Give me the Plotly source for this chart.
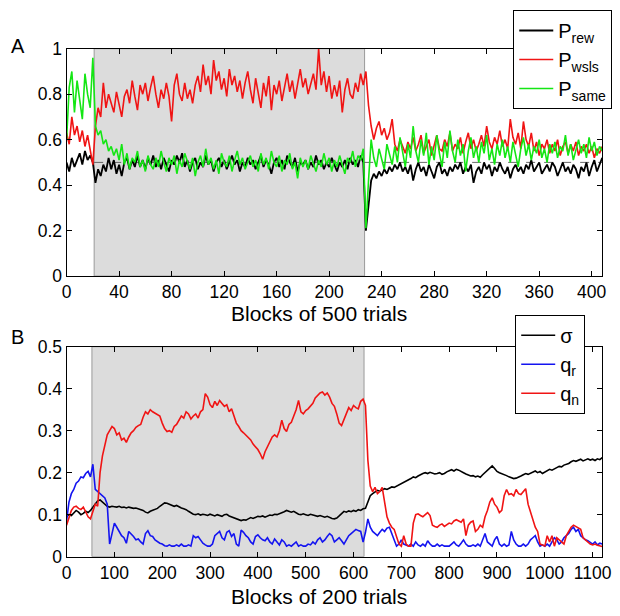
import plotly.graph_objects as go

# ---------------- Panel A: blocks of 500 trials ----------------
blocks_a = list(range(0, 409, 2))

p_rew = [
    0.50, 0.46, 0.52, 0.48, 0.51, 0.54, 0.49, 0.55, 0.51, 0.53, 0.50,
    0.41, 0.47, 0.44, 0.49, 0.46, 0.52, 0.47, 0.51, 0.45, 0.49,
    0.44, 0.50, 0.52, 0.47, 0.51, 0.48, 0.53, 0.48, 0.51, 0.47,
    0.52, 0.49, 0.53, 0.48, 0.51, 0.47, 0.52, 0.49, 0.46, 0.51,
    0.49, 0.53, 0.50, 0.54, 0.48, 0.51, 0.46, 0.50, 0.52, 0.47,
    0.50, 0.48, 0.53, 0.49, 0.51, 0.46, 0.50, 0.52, 0.48, 0.51,
    0.47, 0.50, 0.53, 0.49, 0.51, 0.46, 0.50, 0.48, 0.52, 0.49,
    0.51, 0.47, 0.50, 0.53, 0.48, 0.51, 0.49, 0.45, 0.50, 0.52,
    0.48, 0.51, 0.47, 0.53, 0.50, 0.48, 0.52, 0.46, 0.50, 0.49,
    0.51, 0.47, 0.50, 0.48, 0.53, 0.49, 0.51, 0.47, 0.50, 0.48,
    0.52, 0.49, 0.46, 0.50, 0.48, 0.51, 0.47, 0.52, 0.49, 0.51,
    0.48, 0.53, 0.50,
    0.20, 0.31, 0.42, 0.45, 0.43, 0.46, 0.44, 0.47, 0.45, 0.48,
    0.46, 0.49, 0.47, 0.50, 0.46, 0.48, 0.45, 0.49, 0.42, 0.47,
    0.50, 0.46, 0.48, 0.44, 0.49, 0.46, 0.43, 0.48, 0.50, 0.45,
    0.47, 0.44, 0.48, 0.46, 0.49, 0.47, 0.50, 0.45, 0.48, 0.46,
    0.49, 0.41, 0.46, 0.48, 0.45, 0.50, 0.47, 0.49, 0.44, 0.48,
    0.46, 0.50, 0.47, 0.45, 0.48, 0.43, 0.47, 0.49, 0.46, 0.48,
    0.45, 0.49, 0.47, 0.51, 0.46, 0.48, 0.50, 0.45, 0.47, 0.49,
    0.46, 0.50, 0.48, 0.44, 0.47, 0.50, 0.46, 0.48, 0.45, 0.49,
    0.47, 0.43, 0.48, 0.46, 0.50, 0.44, 0.48, 0.51, 0.46, 0.49,
    0.52,
]

p_wsls = [
    0.63, 0.58, 0.70, 0.62, 0.66, 0.59, 0.64, 0.57, 0.62, 0.55, 0.49,
    0.66, 0.74, 0.70, 0.85, 0.74, 0.80, 0.76, 0.72, 0.81, 0.75,
    0.70, 0.79, 0.82, 0.76, 0.86, 0.79, 0.73, 0.84, 0.80, 0.85,
    0.77, 0.83, 0.88, 0.80, 0.74, 0.82, 0.78, 0.85, 0.79, 0.68,
    0.84, 0.89, 0.80, 0.77, 0.85, 0.78, 0.82, 0.76, 0.84, 0.88,
    0.81, 0.93, 0.84, 0.88, 0.80, 0.95, 0.86, 0.90, 0.82, 0.87,
    0.79, 0.91, 0.84, 0.88, 0.81, 0.86, 0.78, 0.85, 0.90, 0.82,
    0.76, 0.87, 0.80, 0.74, 0.85, 0.79, 0.88, 0.73, 0.84, 0.80,
    0.86, 0.77, 0.83, 0.89, 0.81, 0.86, 0.78, 0.84, 0.91, 0.83,
    0.87, 0.80, 0.85, 0.89, 0.82, 1.00, 0.84, 0.90, 0.81, 0.88,
    0.78, 0.84, 0.79, 0.86, 0.72, 0.82, 0.87, 0.80, 0.78, 0.85,
    0.81, 0.89, 0.84,
    0.90, 0.75, 0.66, 0.60, 0.65, 0.68, 0.62, 0.65, 0.60, 0.63,
    0.69, 0.58, 0.55, 0.60, 0.57, 0.54, 0.59, 0.56, 0.61, 0.55,
    0.58, 0.62, 0.54, 0.57, 0.60, 0.53, 0.58, 0.62, 0.56, 0.55,
    0.60, 0.57, 0.63, 0.55, 0.58, 0.56, 0.61, 0.54, 0.59, 0.63,
    0.56, 0.60, 0.55, 0.58, 0.62, 0.57, 0.66, 0.59, 0.56, 0.61,
    0.58, 0.64, 0.57, 0.60, 0.56, 0.69, 0.61, 0.58, 0.63, 0.56,
    0.68, 0.60, 0.57, 0.63, 0.55, 0.59, 0.53, 0.58, 0.56, 0.60,
    0.54, 0.58, 0.55, 0.60, 0.53, 0.57, 0.59, 0.54, 0.58, 0.55,
    0.59, 0.53, 0.57, 0.55, 0.58, 0.54, 0.57, 0.52, 0.56, 0.54,
    0.57,
]

p_same = [
    0.60, 0.83, 0.90, 0.72, 0.86, 0.78, 0.69, 0.89, 0.80, 0.74, 0.96,
    0.66, 0.62, 0.64, 0.58, 0.60, 0.55, 0.57, 0.53, 0.56, 0.51,
    0.58, 0.49, 0.54, 0.47, 0.52, 0.50, 0.55, 0.48, 0.51, 0.46,
    0.53, 0.49, 0.47, 0.52, 0.48, 0.55, 0.50, 0.46, 0.52, 0.49,
    0.53, 0.45, 0.51, 0.48, 0.54, 0.50, 0.47, 0.52, 0.44, 0.50,
    0.53, 0.48, 0.56, 0.49, 0.52, 0.47, 0.51, 0.45, 0.54, 0.50,
    0.48, 0.53, 0.46, 0.51, 0.55, 0.49, 0.52, 0.47, 0.50, 0.53,
    0.48, 0.51, 0.46, 0.54, 0.49, 0.52, 0.47, 0.55, 0.50, 0.48,
    0.53, 0.46, 0.51, 0.49, 0.54, 0.47, 0.50, 0.43, 0.52, 0.48,
    0.51, 0.47, 0.53, 0.49, 0.46, 0.51, 0.48, 0.54, 0.49, 0.52,
    0.46, 0.51, 0.48, 0.53, 0.49, 0.45, 0.52, 0.50, 0.55, 0.48,
    0.53, 0.51, 0.56,
    0.21, 0.42, 0.60, 0.52, 0.48, 0.56, 0.51, 0.47, 0.58, 0.53,
    0.49, 0.57, 0.50, 0.61, 0.54, 0.48, 0.58, 0.52, 0.66, 0.55,
    0.50, 0.60, 0.53, 0.63, 0.49, 0.57, 0.51, 0.62, 0.54, 0.48,
    0.59, 0.52, 0.64, 0.55, 0.50, 0.60, 0.53, 0.58, 0.46, 0.55,
    0.61, 0.52, 0.57, 0.50, 0.59, 0.54, 0.62, 0.51, 0.56, 0.49,
    0.58, 0.53, 0.60, 0.52, 0.57, 0.50, 0.59, 0.54, 0.48, 0.56,
    0.61, 0.53, 0.58, 0.51, 0.57, 0.54, 0.60, 0.52, 0.56, 0.50,
    0.58, 0.54, 0.59, 0.52, 0.57, 0.55, 0.62, 0.53, 0.58, 0.51,
    0.56, 0.60, 0.54, 0.58, 0.52, 0.61, 0.55, 0.59, 0.53, 0.57,
    0.55,
]

# ---------------- Panel B: blocks of 200 trials ----------------
blocks_b = list(range(0, 1121, 5))

sigma = [
    0.095, 0.100, 0.098, 0.104, 0.110, 0.106, 0.100, 0.103, 0.108, 0.105,
    0.110, 0.118, 0.125, 0.133, 0.135, 0.130, 0.126, 0.120, 0.118, 0.120,
    0.119, 0.118, 0.120, 0.117, 0.118, 0.116, 0.118, 0.117, 0.115, 0.116,
    0.114, 0.113, 0.110, 0.106, 0.104, 0.108, 0.110, 0.112, 0.115, 0.120,
    0.124, 0.128, 0.127, 0.124, 0.122, 0.120, 0.122, 0.118, 0.116, 0.114,
    0.112, 0.108, 0.104, 0.101, 0.100, 0.102, 0.099, 0.101, 0.100, 0.098,
    0.101, 0.099, 0.097, 0.100, 0.098, 0.096, 0.100, 0.101, 0.097, 0.095,
    0.093, 0.090, 0.088, 0.086, 0.088, 0.087, 0.090, 0.093, 0.091, 0.094,
    0.096, 0.095, 0.097, 0.094, 0.096, 0.099, 0.098, 0.101, 0.100, 0.102,
    0.104, 0.107, 0.110, 0.108, 0.106, 0.108, 0.104, 0.101, 0.100, 0.102,
    0.100, 0.098, 0.101, 0.099, 0.097, 0.096, 0.098, 0.095, 0.094, 0.096,
    0.093, 0.091, 0.090, 0.092, 0.097, 0.103, 0.108, 0.106, 0.109, 0.107,
    0.110, 0.108, 0.112, 0.110, 0.114, 0.115, 0.130, 0.145, 0.150, 0.153,
    0.158, 0.156, 0.160, 0.162, 0.160, 0.164, 0.166, 0.165, 0.168, 0.170,
    0.172, 0.176, 0.180, 0.182, 0.186, 0.190, 0.188, 0.192, 0.196, 0.198,
    0.200, 0.198, 0.201, 0.199, 0.197, 0.198, 0.200, 0.196, 0.198, 0.202,
    0.205, 0.207, 0.204, 0.208, 0.206, 0.202, 0.200, 0.197, 0.194, 0.192,
    0.193, 0.190, 0.192, 0.189, 0.195, 0.200, 0.206, 0.212, 0.216, 0.210,
    0.203, 0.200, 0.198, 0.196, 0.193, 0.190, 0.188, 0.186, 0.187, 0.189,
    0.192, 0.195, 0.198, 0.196, 0.199, 0.202, 0.204, 0.200, 0.203, 0.198,
    0.201, 0.205, 0.208, 0.206, 0.210, 0.212, 0.215, 0.214, 0.218, 0.220,
    0.222, 0.226, 0.229, 0.227, 0.230, 0.232, 0.228, 0.231, 0.233, 0.230,
    0.232, 0.229, 0.233, 0.231, 0.236,
]

q_r = [
    0.085, 0.130, 0.150, 0.160, 0.175, 0.180, 0.190, 0.188, 0.198, 0.203,
    0.190, 0.220, 0.160, 0.155, 0.150, 0.145, 0.140, 0.125, 0.030, 0.055,
    0.080, 0.070, 0.060, 0.050, 0.045, 0.032, 0.060, 0.055, 0.048, 0.040,
    0.042, 0.035, 0.030, 0.055, 0.062, 0.050, 0.048, 0.040, 0.035, 0.032,
    0.030, 0.026, 0.025, 0.028, 0.025, 0.025, 0.028, 0.025, 0.030, 0.025,
    0.025, 0.028, 0.025, 0.050, 0.045, 0.048, 0.040, 0.032, 0.028, 0.025,
    0.025, 0.030, 0.050, 0.055, 0.060, 0.045, 0.040, 0.058, 0.062, 0.048,
    0.055, 0.030, 0.025, 0.063, 0.058, 0.050, 0.045, 0.035, 0.030, 0.048,
    0.052, 0.045, 0.040, 0.038, 0.045, 0.035, 0.030, 0.042, 0.035, 0.028,
    0.040, 0.035, 0.025, 0.028, 0.025, 0.030, 0.035, 0.025, 0.028, 0.025,
    0.025, 0.030, 0.028, 0.035, 0.030, 0.040, 0.045, 0.035, 0.040, 0.048,
    0.055, 0.050, 0.035, 0.040, 0.045, 0.038, 0.030, 0.040, 0.050, 0.055,
    0.060, 0.065, 0.062, 0.060, 0.035, 0.058, 0.090, 0.070, 0.060, 0.055,
    0.050, 0.058, 0.065, 0.060, 0.068, 0.070, 0.055, 0.045, 0.025, 0.030,
    0.040, 0.030, 0.028, 0.025, 0.030, 0.025, 0.035, 0.028, 0.025, 0.030,
    0.025, 0.038, 0.030, 0.025, 0.025, 0.030, 0.025, 0.028, 0.025, 0.025,
    0.025, 0.030, 0.035, 0.028, 0.025, 0.032, 0.040, 0.030, 0.025, 0.025,
    0.028, 0.025, 0.030, 0.025, 0.040, 0.055, 0.035, 0.030, 0.025, 0.040,
    0.048, 0.030, 0.025, 0.030, 0.025, 0.028, 0.060, 0.040, 0.030, 0.025,
    0.025, 0.030, 0.025, 0.030, 0.040, 0.045, 0.050, 0.035, 0.025, 0.028,
    0.025, 0.030, 0.025, 0.035, 0.045, 0.040, 0.030, 0.035, 0.045, 0.050,
    0.055, 0.065, 0.070, 0.060, 0.065, 0.050, 0.045, 0.040, 0.038, 0.035,
    0.030, 0.035, 0.028, 0.032, 0.030,
]

q_n = [
    0.075, 0.095, 0.110, 0.118, 0.120, 0.115, 0.112, 0.118, 0.108, 0.095,
    0.090, 0.110, 0.125, 0.120, 0.200, 0.240, 0.265, 0.290, 0.300, 0.310,
    0.305, 0.290, 0.295, 0.278, 0.282, 0.272, 0.285, 0.295, 0.300, 0.308,
    0.312, 0.315, 0.332, 0.345, 0.340, 0.350, 0.345, 0.342, 0.338, 0.335,
    0.318, 0.305, 0.298, 0.300, 0.296, 0.310, 0.315, 0.325, 0.335, 0.330,
    0.345, 0.340, 0.328, 0.335, 0.340, 0.330, 0.345, 0.350, 0.388, 0.380,
    0.362, 0.355, 0.370, 0.360, 0.372, 0.365, 0.358, 0.362, 0.345, 0.352,
    0.335, 0.318, 0.310, 0.300, 0.295, 0.290, 0.285, 0.278, 0.268, 0.262,
    0.255, 0.245, 0.232, 0.250, 0.262, 0.275, 0.285, 0.290, 0.285, 0.300,
    0.325, 0.305, 0.298, 0.315, 0.320, 0.335, 0.350, 0.372, 0.345, 0.340,
    0.348, 0.352, 0.358, 0.365, 0.378, 0.385, 0.390, 0.392, 0.385, 0.390,
    0.380, 0.365, 0.358, 0.340, 0.318, 0.312, 0.328, 0.340, 0.355, 0.348,
    0.360, 0.355, 0.352, 0.370, 0.375, 0.360, 0.230, 0.168, 0.155, 0.165,
    0.150, 0.155, 0.165, 0.130, 0.095, 0.080, 0.070, 0.065, 0.045, 0.030,
    0.025, 0.050, 0.030, 0.025, 0.025, 0.080, 0.100, 0.102, 0.098, 0.095,
    0.100, 0.105, 0.098, 0.075, 0.072, 0.070, 0.075, 0.078, 0.072, 0.075,
    0.080, 0.078, 0.085, 0.088, 0.085, 0.082, 0.090, 0.050, 0.075, 0.082,
    0.085, 0.060, 0.065, 0.075, 0.070, 0.095, 0.110, 0.130, 0.140, 0.125,
    0.118, 0.105, 0.110, 0.145, 0.160, 0.148, 0.150, 0.145, 0.160, 0.150,
    0.148, 0.155, 0.162, 0.125, 0.105, 0.085, 0.070, 0.060, 0.030, 0.028,
    0.025, 0.050, 0.035, 0.050, 0.025, 0.045, 0.040, 0.035, 0.030, 0.050,
    0.060, 0.070, 0.075, 0.072, 0.068, 0.065, 0.045, 0.040, 0.035, 0.030,
    0.028, 0.030, 0.027, 0.025, 0.024,
]

# Highlighted (shaded) block ranges and reference level
shade_a = (21, 227)
shade_b = (53, 622)
chance_level = 0.5

xticks_a = [0, 40, 80, 120, 160, 200, 240, 280, 320, 360, 400]
yticks_a = [0, 0.2, 0.4, 0.6, 0.8, 1]
ytext_a = ["0", "0.2", "0.4", "0.6", "0.8", "1"]
xticks_b = [0, 100, 200, 300, 400, 500, 600, 700, 800, 900, 1000, 1100]
yticks_b = [0, 0.1, 0.2, 0.3, 0.4, 0.5]
ytext_b = ["0", "0.1", "0.2", "0.3", "0.4", "0.5"]

assert len(p_rew) == len(p_wsls) == len(p_same) == len(blocks_a)
assert len(sigma) == len(q_r) == len(q_n) == len(blocks_b)

FONT = "Liberation Sans, Arial, Helvetica, sans-serif"
RED = "#f01414"
GREEN = "#14e614"
BLUE = "#1414f0"

fig = go.Figure()

fig.add_trace(go.Scatter(x=blocks_a, y=p_rew, mode="lines", name="P<sub>rew</sub>",
                         line=dict(color="black", width=1.8), xaxis="x", yaxis="y",
                         legend="legend"))
fig.add_trace(go.Scatter(x=blocks_a, y=p_wsls, mode="lines", name="P<sub>wsls</sub>",
                         line=dict(color=RED, width=1.6), xaxis="x", yaxis="y",
                         legend="legend"))
fig.add_trace(go.Scatter(x=blocks_a, y=p_same, mode="lines", name="P<sub>same</sub>",
                         line=dict(color=GREEN, width=1.6), xaxis="x", yaxis="y",
                         legend="legend"))

fig.add_trace(go.Scatter(x=blocks_b, y=sigma, mode="lines", name="σ",
                         line=dict(color="black", width=1.6), xaxis="x2", yaxis="y2",
                         legend="legend2"))
fig.add_trace(go.Scatter(x=blocks_b, y=q_r, mode="lines", name="q<sub>r</sub>",
                         line=dict(color=BLUE, width=1.6), xaxis="x2", yaxis="y2",
                         legend="legend2"))
fig.add_trace(go.Scatter(x=blocks_b, y=q_n, mode="lines", name="q<sub>n</sub>",
                         line=dict(color=RED, width=1.6), xaxis="x2", yaxis="y2",
                         legend="legend2"))

W, H = 620, 616
xdom = [63 / W, 611 / W]
ydom_a = [(H - 275) / H, (H - 40) / H]
ydom_b = [(H - 565) / H, (H - 348) / H]

axis_style = dict(showline=True, linecolor="black", linewidth=1, mirror="ticks",
                  ticks="inside", ticklen=5, tickcolor="black", tickwidth=1,
                  showgrid=False, zeroline=False,
                  tickfont=dict(family=FONT, size=17.5, color="black"))

shapes = [
    dict(type="rect", xref="x", yref="y", x0=shade_a[0], x1=shade_a[1], y0=0, y1=1,
         fillcolor="#dcdcdc", line=dict(color="#9a9a9a", width=1), layer="below"),
    dict(type="line", xref="x", yref="y", x0=shade_a[0], x1=blocks_a[-1],
         y0=chance_level, y1=chance_level,
         line=dict(color="#444444", width=0.8, dash="dash"), layer="below"),
    dict(type="rect", xref="x2", yref="y2", x0=shade_b[0], x1=shade_b[1], y0=0, y1=0.5,
         fillcolor="#dcdcdc", line=dict(color="#9a9a9a", width=1), layer="below"),
]

annotations = [
    dict(text="A", x=13 / W, y=(H - 37) / H, xref="paper", yref="paper",
         xanchor="center", yanchor="middle",
         showarrow=False, font=dict(family=FONT, size=20, color="black")),
    dict(text="B", x=13 / W, y=(H - 338) / H, xref="paper", yref="paper",
         xanchor="center", yanchor="middle",
         showarrow=False, font=dict(family=FONT, size=20, color="black")),
    dict(text="Blocks of 500 trials", x=321 / W, y=(H - 314) / H, xref="paper",
         yref="paper", xanchor="center", yanchor="middle",
         showarrow=False, font=dict(family=FONT, size=21, color="black")),
    dict(text="Blocks of 200 trials", x=321 / W, y=(H - 606) / H, xref="paper",
         yref="paper", xanchor="center", yanchor="middle",
         showarrow=False, font=dict(family=FONT, size=21, color="black")),
]

legend_style = dict(bgcolor="white", bordercolor="black", borderwidth=1,
                    font=dict(family=FONT, size=20, color="black"),
                    xanchor="left", yanchor="top", itemwidth=34)

fig.update_layout(
    width=W, height=H,
    margin=dict(l=0, r=0, t=0, b=0),
    paper_bgcolor="white", plot_bgcolor="white",
    font=dict(family=FONT, color="black"),
    xaxis=dict(domain=xdom, range=[0, 408], tickvals=xticks_a, anchor="y", **axis_style),
    yaxis=dict(domain=ydom_a, range=[0, 1], tickvals=yticks_a, ticktext=ytext_a,
               anchor="x", **axis_style),
    xaxis2=dict(domain=xdom, range=[0, 1120], tickvals=xticks_b, anchor="y2", **axis_style),
    yaxis2=dict(domain=ydom_b, range=[0, 0.5], tickvals=yticks_b, ticktext=ytext_b,
                anchor="x2", **axis_style),
    legend=dict(x=520 / W, y=1.0, **legend_style),
    legend2=dict(x=522 / W, y=(H - 315) / H, **legend_style),
    shapes=shapes,
    annotations=annotations,
    showlegend=True,
)

fig.write_html("out.html")
